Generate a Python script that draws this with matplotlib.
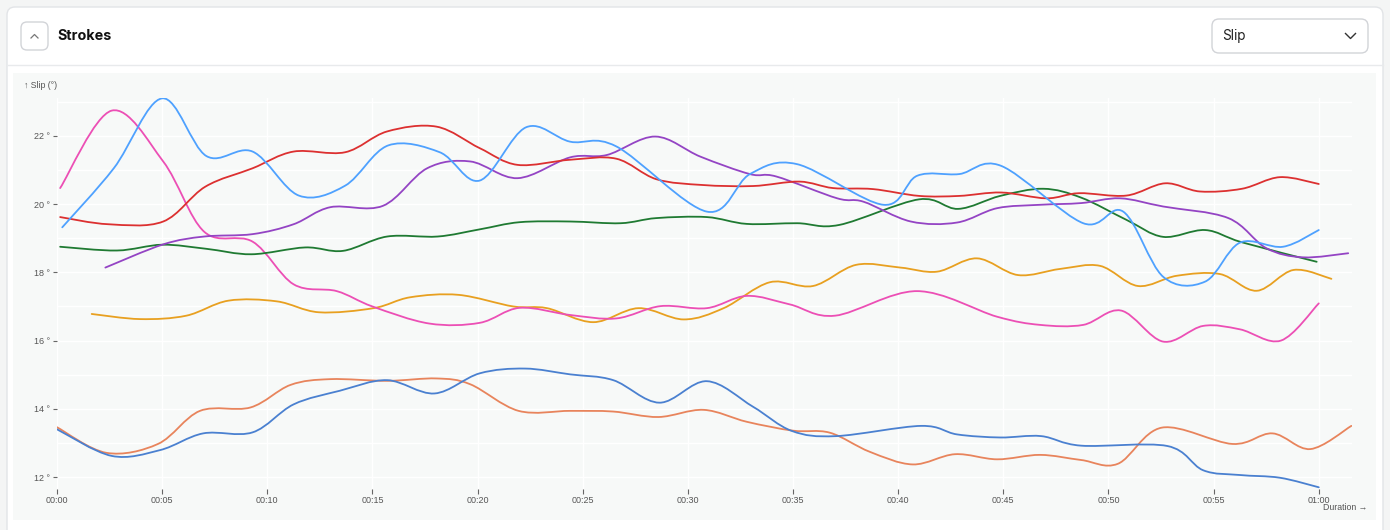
import numpy as np
import matplotlib
matplotlib.use("Agg")
from matplotlib import pyplot as plt
from matplotlib.path import Path
from matplotlib.patches import PathPatch, FancyBboxPatch, Rectangle

plt.rcParams['font.family'] = ['Liberation Sans', 'DejaVu Sans']

# time in seconds, slip in degrees, one pair of lists per stroke series
light_blue_t = [0.25, 2.7, 5.0, 7.1, 9.3, 11.5, 13.7, 15.75, 18.2, 20.1, 22.3, 24.4, 26.6, 30.9, 32.95,
                35.2, 39.3, 40.9, 42.9, 44.9, 48.8, 50.7, 52.6, 54.6, 56.25, 58.3, 60.0]
light_blue_v = [19.32, 21.05, 23.1, 21.41, 21.54, 20.25, 20.54, 21.72, 21.52, 20.69, 22.25, 21.83, 21.69, 19.78, 20.88,
                21.17, 19.98, 20.83, 20.88, 21.12, 19.44, 19.78, 17.87, 17.73, 18.87, 18.75, 19.24]

pink_t = [0.15, 2.6, 5.05, 7.0, 9.3, 11.25, 13.3, 15.0, 17.7, 20.1, 22.0, 24.4, 26.6, 28.7, 30.9, 32.8, 34.85,
          37.0, 40.9, 44.7, 46.75, 48.8, 50.6, 52.6, 54.5, 56.25, 58.2, 60.0]
pink_v = [20.47, 22.74, 21.25, 19.19, 18.9, 17.65, 17.45, 17.0, 16.5, 16.52, 16.96, 16.75, 16.65, 17.01, 16.95, 17.31, 17.06,
          16.73, 17.45, 16.7, 16.46, 16.46, 16.88, 15.97, 16.43, 16.33, 16.0, 17.09]

red_t = [0.15, 2.45, 5.05, 7.05, 9.3, 11.25, 13.7, 15.7, 18.05, 20.1, 21.9, 24.4, 26.6, 28.5, 30.7, 33.1, 35.3,
         36.9, 38.8, 41.0, 42.9, 44.9, 47.05, 48.6, 50.85, 52.7, 54.35, 56.35, 58.15, 60.0]
red_v = [19.62, 19.41, 19.49, 20.51, 21.05, 21.54, 21.52, 22.13, 22.27, 21.64, 21.15, 21.3, 21.33, 20.73, 20.56, 20.53, 20.66,
         20.47, 20.44, 20.24, 20.24, 20.34, 20.17, 20.32, 20.25, 20.61, 20.37, 20.45, 20.79, 20.59]

purple_t = [2.3, 5.05, 7.0, 9.3, 11.25, 13.0, 15.5, 17.6, 19.65, 21.9, 24.4, 26.15, 28.45, 30.6, 32.95, 34.2, 37.1,
            38.35, 40.6, 42.8, 44.7, 46.75, 48.7, 50.55, 52.6, 55.7, 57.5, 59.25, 61.4]
purple_v = [18.14, 18.82, 19.05, 19.12, 19.41, 19.91, 19.95, 21.05, 21.25, 20.76, 21.37, 21.44, 21.98, 21.39, 20.88, 20.81, 20.17,
            20.07, 19.49, 19.46, 19.88, 19.98, 20.03, 20.17, 19.93, 19.59, 18.71, 18.44, 18.56]

green_t = [0.15, 2.85, 5.0, 7.1, 9.25, 11.8, 13.6, 15.7, 18.1, 20.1, 22.0, 24.4, 26.8, 28.5, 30.9, 32.8, 35.2,
           37.2, 41.0, 42.85, 44.85, 46.9, 48.7, 50.85, 52.6, 54.6, 56.35, 59.9]
green_v = [18.75, 18.64, 18.81, 18.69, 18.53, 18.73, 18.63, 19.05, 19.05, 19.26, 19.47, 19.49, 19.44, 19.59, 19.62, 19.42, 19.44,
           19.39, 20.14, 19.86, 20.24, 20.45, 20.19, 19.54, 19.04, 19.24, 18.88, 18.31]

gold_t = [1.65, 3.95, 6.15, 8.15, 10.45, 12.45, 15.05, 16.8, 19.1, 21.7, 23.3, 25.5, 27.65, 29.8, 31.7, 33.9, 35.95,
          38.0, 40.1, 41.85, 43.75, 45.7, 47.7, 49.6, 51.4, 53.25, 55.3, 57.05, 58.8, 60.6]
gold_v = [16.78, 16.63, 16.73, 17.17, 17.15, 16.83, 16.95, 17.27, 17.34, 17.0, 16.95, 16.54, 16.95, 16.62, 16.95, 17.71, 17.6,
          18.22, 18.14, 18.02, 18.41, 17.92, 18.1, 18.19, 17.6, 17.9, 17.95, 17.46, 18.07, 17.81]

dkblue_t = [0, 2.6, 4.9, 6.95, 9.3, 11.25, 13.45, 15.7, 17.95, 20.1, 22.25, 24.4, 26.45, 28.65, 30.9, 33.1, 34.95,
            37.05, 41.1, 42.8, 44.85, 46.8, 48.7, 52.8, 54.5, 56.25, 58.15, 60.0]
dkblue_v = [13.4, 12.62, 12.79, 13.28, 13.31, 14.13, 14.53, 14.84, 14.45, 15.04, 15.18, 15.01, 14.84, 14.18, 14.81, 14.06, 13.35,
            13.2, 13.5, 13.25, 13.16, 13.2, 12.92, 12.91, 12.2, 12.06, 11.98, 11.7]

salmon_t = [0, 2.35, 4.8, 6.8, 9.2, 11.1, 13.0, 15.7, 18.05, 19.65, 21.95, 24.4, 26.45, 28.6, 30.75, 32.8, 35.0,
            36.75, 38.65, 40.7, 42.7, 44.7, 46.75, 48.7, 50.45, 52.55, 55.9, 57.8, 59.6, 61.55]
salmon_v = [13.46, 12.71, 12.97, 13.94, 14.04, 14.7, 14.87, 14.82, 14.89, 14.72, 13.94, 13.94, 13.92, 13.76, 13.97, 13.62, 13.36,
            13.3, 12.74, 12.37, 12.67, 12.52, 12.65, 12.5, 12.39, 13.45, 12.97, 13.28, 12.82, 13.5]

series = [
    (salmon_t, salmon_v, '#e8845c'),
    (dkblue_t, dkblue_v, '#4a80d0'),
    (gold_t, gold_v, '#e8a020'),
    (pink_t, pink_v, '#ec4fb5'),
    (green_t, green_v, '#1f7a32'),
    (purple_t, purple_v, '#9444c4'),
    (red_t, red_v, '#dc3030'),
    (light_blue_t, light_blue_v, '#4ea1ff'),
]

x_ticks = list(range(0, 61, 5))
x_labels = ['00:%02d' % s if s < 60 else '01:00' for s in x_ticks]
y_ticks = [12, 14, 16, 18, 20, 22]


def smooth_path(ts, vs):
    # catmull-rom through the points, as bezier segments
    pts = np.column_stack([ts, vs]).astype(float)
    n = len(pts)
    verts = [pts[0]]
    codes = [Path.MOVETO]
    for i in range(n - 1):
        p0 = pts[i - 1] if i > 0 else pts[i]
        p1 = pts[i]
        p2 = pts[i + 1]
        p3 = pts[i + 2] if i + 2 < n else pts[i + 1]
        verts += [p1 + (p2 - p0) / 6, p2 - (p3 - p1) / 6, p2]
        codes += [Path.CURVE4] * 3
    return Path(verts, codes)


W, H = 1390, 530
fig = plt.figure(figsize=(W / 100, H / 100), dpi=100, facecolor='#f4f5f5')

# page furniture, drawn in pixel units
bg = fig.add_axes([0, 0, 1, 1])
bg.set_xlim(0, W)
bg.set_ylim(H, 0)
bg.axis('off')
bg.add_patch(FancyBboxPatch((7, 7), 1376, 560, boxstyle='round,pad=0,rounding_size=8',
                            fc='white', ec='#e2e4e7', lw=1))
bg.plot([7.5, 1382.5], [65, 65], color='#e8eaec', lw=1)
bg.add_patch(Rectangle((13, 73), 1363, 447, fc='#f7f9f8', ec='none'))
bg.add_patch(FancyBboxPatch((21, 22), 27, 28, boxstyle='round,pad=0,rounding_size=6',
                            fc='white', ec='#d2d4d8', lw=1))
bg.plot([31, 34.5, 38], [38, 34.5, 38], color='#777777', lw=0.9)
bg.text(57, 35.5, 'Strokes', fontsize=10.3, fontweight='bold', family=['Inter', 'DejaVu Sans'],
        color='#111111', va='center', ha='left')
bg.add_patch(FancyBboxPatch((1212, 19), 156, 34, boxstyle='round,pad=0,rounding_size=7',
                            fc='white', ec='#d2d4d8', lw=1))
bg.text(1222, 36, 'Slip', fontsize=9.8, family=['Inter', 'DejaVu Sans'], color='#222222',
        va='center', ha='left')
bg.plot([1345.5, 1350.5, 1355.5], [33.5, 38.5, 33.5], color='#333333', lw=1)
bg.text(24, 86, '\u2191 Slip (\u00b0)', fontsize=6.3, color='#555555', va='center', ha='left')
bg.text(1367, 508, 'Duration \u2192', fontsize=6.3, color='#555555', va='center', ha='right')

# chart
ax = fig.add_axes([57 / W, 1 - 489 / H, (1352 - 57) / W, (489 - 98) / H])
ax.patch.set_alpha(0)
ax.set_xlim(0, 61.58)
ax.set_ylim(11.65, 23.11)
for sp in ax.spines.values():
    sp.set_visible(False)

ax.set_xticks(x_ticks)
ax.set_xticklabels(x_labels)
ax.set_yticks(y_ticks)
ax.set_yticklabels(['%d \u00b0' % v for v in y_ticks])
ax.set_yticks(range(12, 24), minor=True)
ax.tick_params(axis='y', which='minor', length=0)
ax.tick_params(axis='x', length=3.5, width=0.8, color='#666666', pad=1.2, labelsize=6.5, labelcolor='#555555')
ax.tick_params(axis='y', which='major', length=3, width=0.8, color='#666666', pad=2,
               labelsize=6.5, labelcolor='#555555')
ax.grid(True, which='both', color='white', lw=1)
ax.set_axisbelow(True)

for ts, vs, col in series:
    ax.add_patch(PathPatch(smooth_path(ts, vs), fill=False, ec=col, lw=1.3,
                           capstyle='round', joinstyle='round', zorder=3))

fig.savefig('out.png', dpi=100, facecolor=fig.get_facecolor())
